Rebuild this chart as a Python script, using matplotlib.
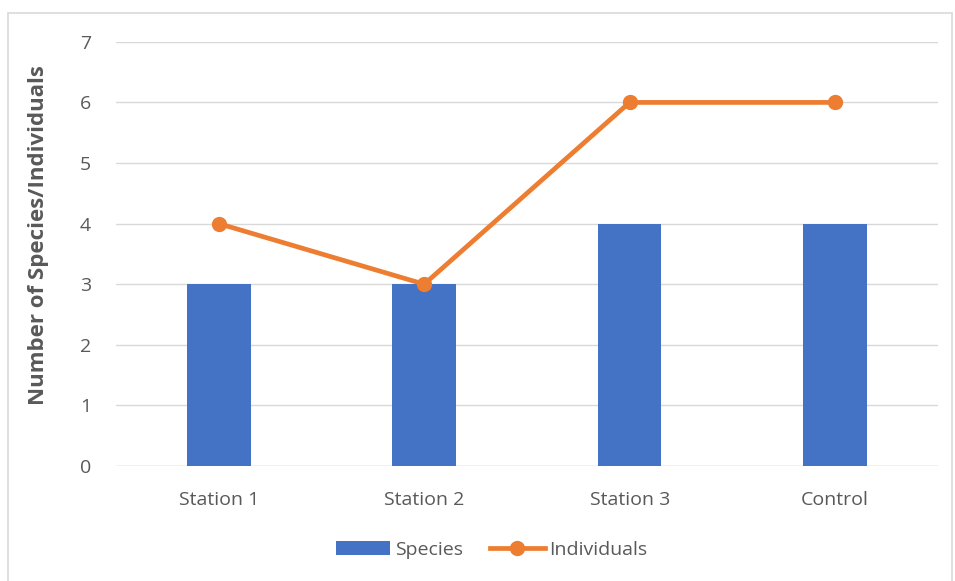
import matplotlib.pyplot as plt
from matplotlib.patches import Rectangle

categories = ["Station 1", "Station 2", "Station 3", "Control"]
species = [3, 3, 4, 4]
individuals = [4, 3, 6, 6]

BLUE = "#4472C4"
ORANGE = "#ED7D31"
TXT = "#595959"
GRID = "#D9D9D9"

plt.rcParams['font.family'] = ['Open Sans', 'DejaVu Sans']

fig = plt.figure(figsize=(9.55, 5.81), dpi=100)
ax = fig.add_axes([0.1215, 0.198, 0.8605, 0.730])

x = range(len(categories))
bars = ax.bar(x, species, width=0.31, color=BLUE, label="Species", zorder=2)
line, = ax.plot(x, individuals, color=ORANGE, lw=3.4, marker='o', ms=10,
                label="Individuals", zorder=3)

ax.set_xlim(-0.5, 3.5)
ax.set_ylim(0, 7)
ax.set_yticks(range(0, 8))
ax.set_xticks(list(x))
ax.set_xticklabels(categories)
ax.tick_params(axis='both', length=0, labelsize=14, colors=TXT)
ax.tick_params(axis='x', pad=18)
ax.tick_params(axis='y', pad=18)
ax.grid(axis='y', color=GRID, lw=1, zorder=0)
for s in ax.spines.values():
    s.set_visible(False)
ax.axhline(0, color=GRID, lw=1, zorder=1)

ax.set_ylabel("Number of Species/Individuals", fontsize=16, fontweight='bold',
              color=TXT)
ax.yaxis.set_label_coords(-0.081, 0.545)

ax.legend([bars, line], ["Species", "Individuals"], loc='upper center',
          bbox_to_anchor=(0.457, -0.135), ncol=2, frameon=False,
          fontsize=14, labelcolor=TXT, handlelength=2.8, handletextpad=0.25,
          columnspacing=1.4)

fig.patches.append(Rectangle((8 / 955, -0.01), 944 / 955, 1 - 13 / 581 + 0.01,
                             transform=fig.transFigure, fill=False,
                             edgecolor=GRID, lw=1.2))

fig.savefig("out.png", dpi=100, facecolor='white')
